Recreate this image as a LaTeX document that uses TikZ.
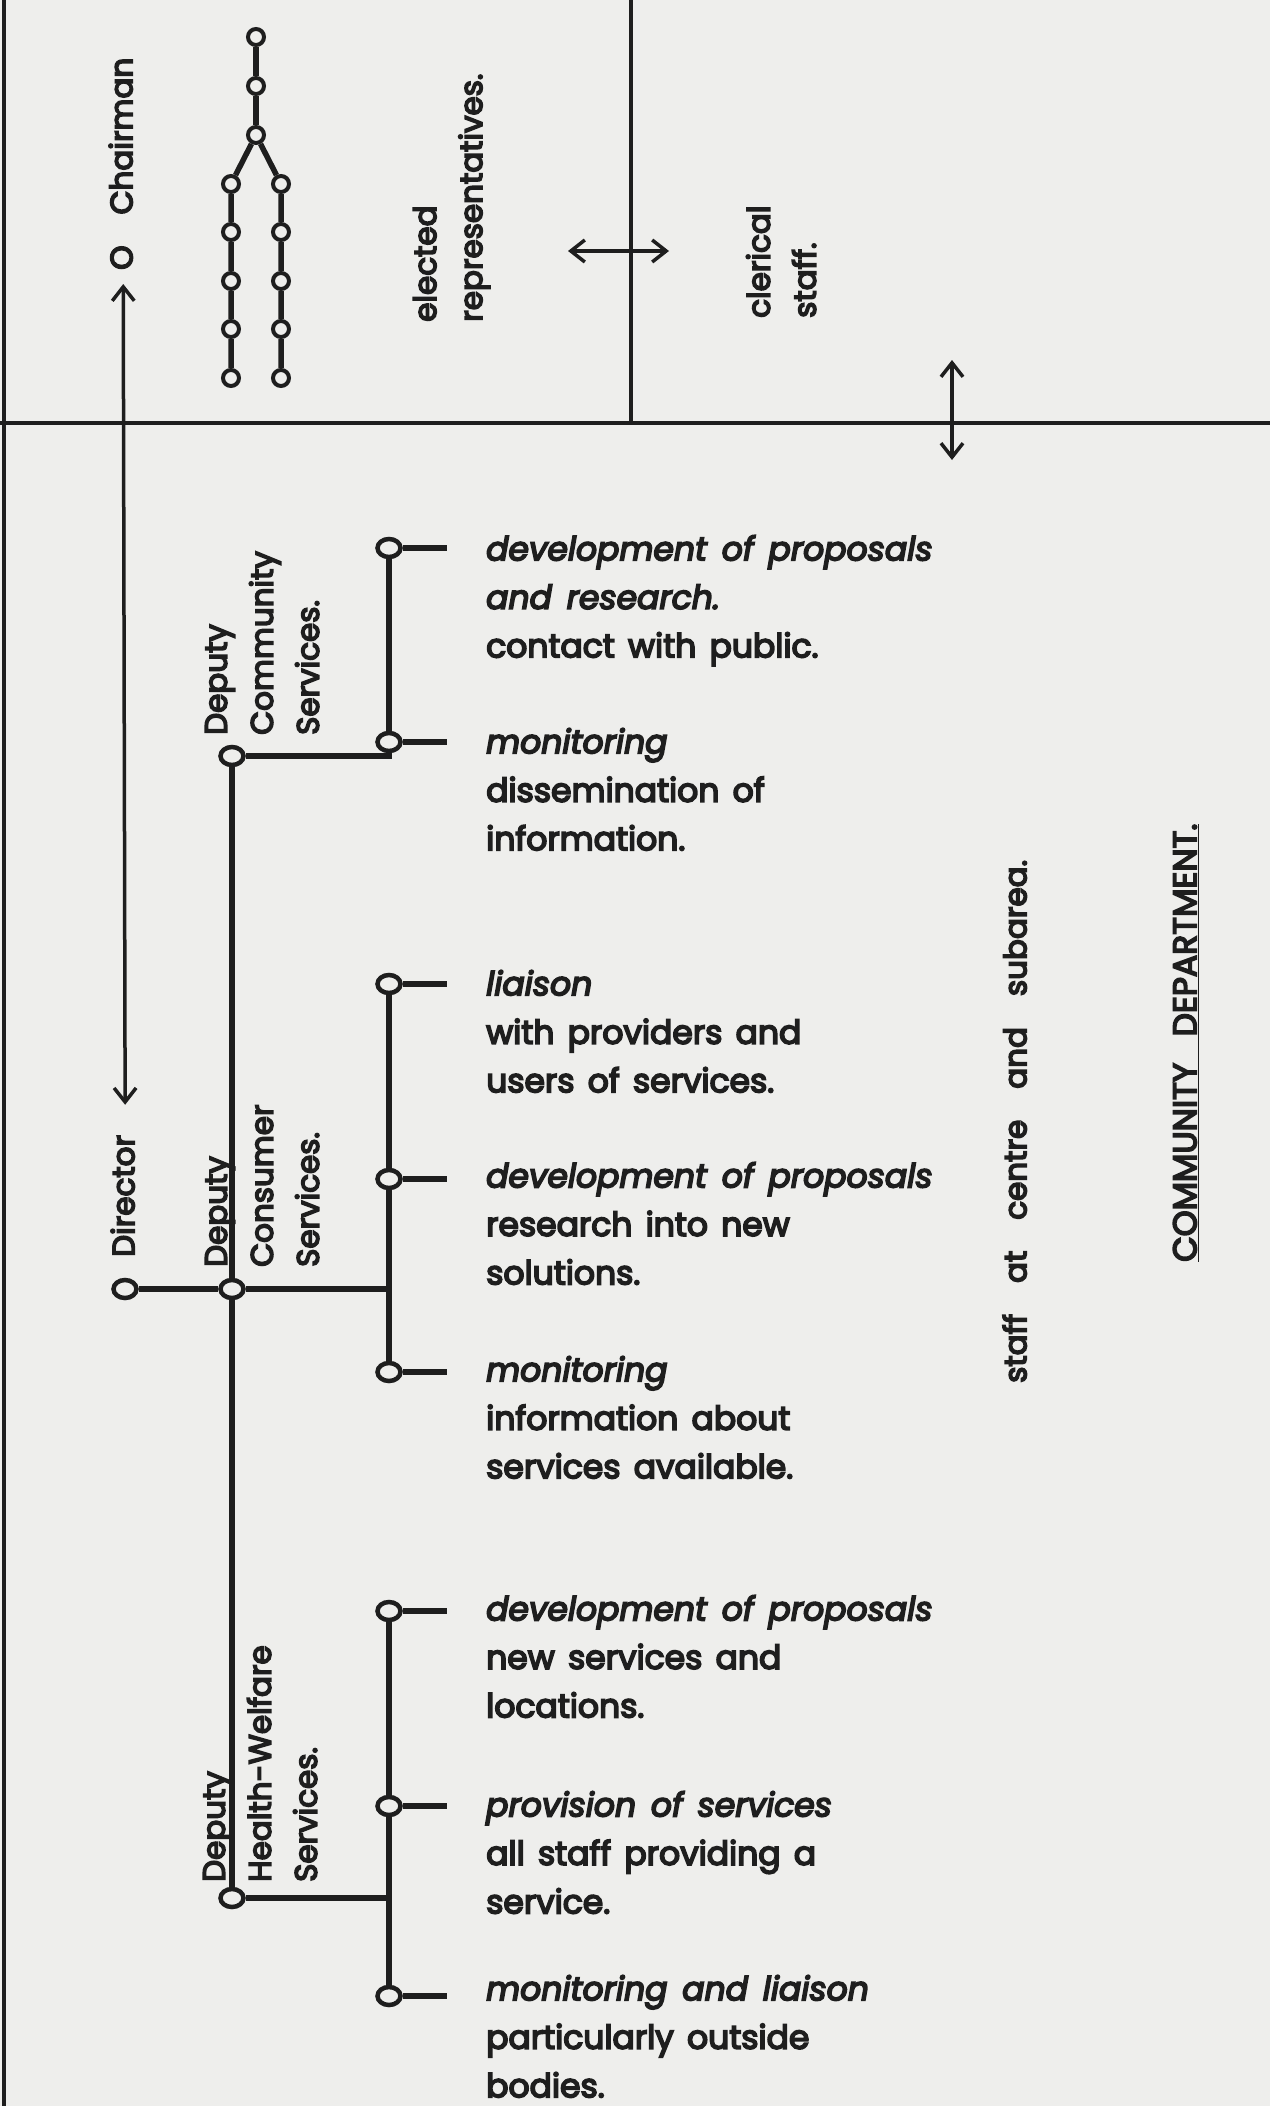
\documentclass[tikz,border=0pt]{standalone}
\usepackage{fontspec}
\setmainfont{Poppins}[WordSpace=1.5,UprightFeatures={FakeBold=5},ItalicFeatures={FakeBold=5}]
\usetikzlibrary{arrows.meta,positioning,shapes.geometric}
\definecolor{paper}{RGB}{238,238,236}
\definecolor{ink}{RGB}{30,30,30}

\begin{document}
\begin{tikzpicture}[x=1pt,y=-1pt,
  every node/.style={inner sep=0pt,text=ink},
  ring/.style={ellipse,draw=ink,line width=4.5pt,fill=paper,minimum width=23pt,minimum height=18pt},
  smallring/.style={circle,draw=ink,line width=4pt,fill=paper,minimum size=16pt},
  sidetext/.style={font=\fontsize{31}{46}\selectfont,align=left,rotate=90,anchor=north west,execute at begin node=\strut},
  duty/.style={font=\fontsize{33}{48.5}\selectfont,align=left,anchor=north west,execute at begin node=\strut},
  frame/.style={draw=ink,line width=3.5pt},
  conn/.style={draw=ink,line width=5.5pt},
  dbl/.style={draw=ink,line width=3.5pt,{Straight Barb[length=14pt,width=22pt]}-{Straight Barb[length=14pt,width=22pt]}}]

\fill[paper] (0,0) rectangle (1270,2106);
\useasboundingbox (0,0) rectangle (1270,2106);

% frame
\draw[frame] (4,0) -- (4,2106);
\draw[frame] (0,423) -- (1270,423);
\draw[frame] (631,0) -- (631,423);

% elected members
\node[smallring] (e1) at (256,37) {};
\node[smallring] (e2) at (256,86) {};
\node[smallring] (e3) at (256,135) {};
\node[smallring] (l1) at (231,184) {};
\node[smallring] (l2) at (231,232) {};
\node[smallring] (l3) at (231,281) {};
\node[smallring] (l4) at (231,329) {};
\node[smallring] (l5) at (231,378) {};
\node[smallring] (r1) at (281,184) {};
\node[smallring] (r2) at (281,232) {};
\node[smallring] (r3) at (281,281) {};
\node[smallring] (r4) at (281,329) {};
\node[smallring] (r5) at (281,378) {};
\draw[conn] (e1) -- (e2) -- (e3);
\draw[conn] (e3) -- (l1) -- (l2) -- (l3) -- (l4) -- (l5);
\draw[conn] (e3) -- (r1) -- (r2) -- (r3) -- (r4) -- (r5);

\node[sidetext] (chair) at (100,270) {O\hspace{1em}Chairman};
\node[sidetext] (reps) at (413,322) {elected\\representatives.};
\node[sidetext] (clerical) at (746,318) {clerical\\staff.};

\coordinate (ra) at (568,251);
\coordinate (rb) at (669,251);
\draw[dbl] (ra) -- (rb);
\coordinate (sa) at (952,360);
\coordinate (sb) at (952,460);
\draw[dbl] (sa) -- (sb);

% department
\node[sidetext] (director) at (102,1257) {Director};
\draw[dbl,shorten <=30pt,shorten >=14pt] (director.east) -- (chair.west);

\node[ring] (dir) at (125,1289) {};
\node[ring] (dcm) at (232,756) {};
\node[ring] (dcn) at (232,1289) {};
\node[ring] (dhw) at (232,1898) {};
\node[sidetext] (dcmt) at (205,735) {Deputy\\Community\\Services.};
\node[sidetext] (dcnt) at (205,1267) {Deputy\\Consumer\\Services.};
\node[sidetext] (dhwt) at (203,1882) {Deputy\\Health-Welfare\\Services.};

\node[ring] (cm1) at (389,548) {};
\node[ring] (cm2) at (389,742) {};
\node[ring] (cn1) at (389,984) {};
\node[ring] (cn2) at (389,1179) {};
\node[ring] (cn3) at (389,1372) {};
\node[ring] (hw1) at (389,1611) {};
\node[ring] (hw2) at (389,1806) {};
\node[ring] (hw3) at (389,1996) {};

\draw[conn] (dcm) -- (dcn) -- (dhw);
\draw[conn] (dir) -- (dcn) -- (dcn -| cn2);
\draw[conn] (dcm) -| (cm2);
\draw[conn] (dhw) -- (dhw -| hw2);
\draw[conn] (cm1) -- (cm2);
\draw[conn] (cn1) -- (cn2) -- (cn3);
\draw[conn] (hw1) -- (hw2) -- (hw3);

\coordinate (stub) at (447,0);
\draw[conn] (cm1) -- (cm1 -| stub);
\draw[conn] (cm2) -- (cm2 -| stub);
\draw[conn] (cn1) -- (cn1 -| stub);
\draw[conn] (cn2) -- (cn2 -| stub);
\draw[conn] (cn3) -- (cn3 -| stub);
\draw[conn] (hw1) -- (hw1 -| stub);
\draw[conn] (hw2) -- (hw2 -| stub);
\draw[conn] (hw3) -- (hw3 -| stub);

\node[duty] (cm1t) at (486,535) {\textit{development of proposals}\\\textit{and research.}\\contact with public.};
\node[duty] (cm2t) at (486,728) {\textit{monitoring}\\dissemination of\\information.};
\node[duty] (cn1t) at (486,970) {\textit{liaison}\\with providers and\\users of services.};
\node[duty] (cn2t) at (486,1162) {\textit{development of proposals}\\research into new\\solutions.};
\node[duty] (cn3t) at (486,1356) {\textit{monitoring}\\information about\\services available.};
\node[duty] (hw1t) at (486,1595) {\textit{development of proposals}\\new services and\\locations.};
\node[duty] (hw2t) at (486,1791) {\textit{provision of services}\\all staff providing a\\service.};
\node[duty] (hw3t) at (486,1975) {\textit{monitoring and liaison}\\particularly outside\\bodies.};

\node[sidetext] (staff) at (994,1383) {\spaceskip=1em staff at centre and subarea.};
\node[sidetext,font=\fontsize{33}{46}\selectfont] (dept) at (1164,1262) {\underline{COMMUNITY\hspace{0.8em}DEPARTMENT.}};
\end{tikzpicture}
\end{document}
